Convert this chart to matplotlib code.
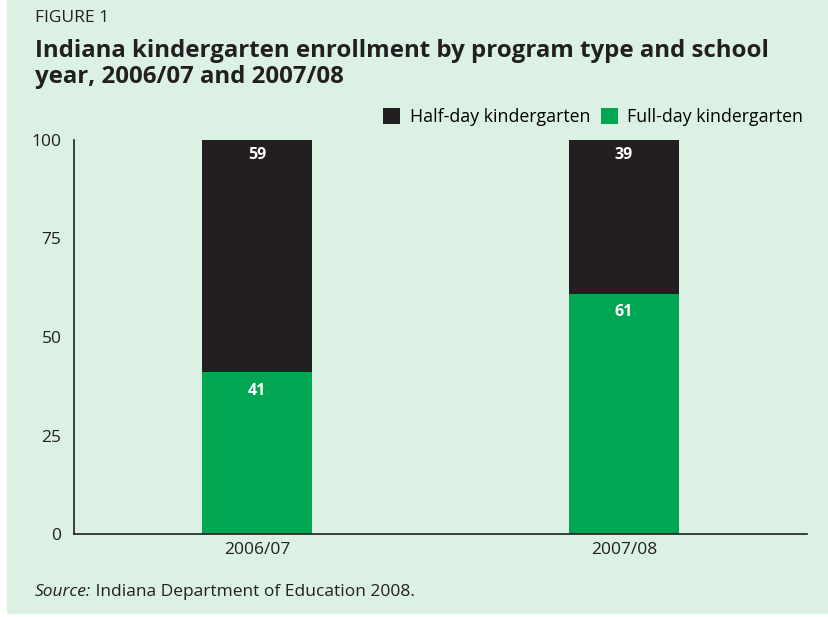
import matplotlib
matplotlib.use("Agg")
import matplotlib.pyplot as plt
from matplotlib.patches import Rectangle

# Data
years = ["2006/07", "2007/08"]
full_day = [41, 61]
half_day = [59, 39]
yticks = [0, 25, 50, 75, 100]

BG = "#daf1e4"
BLACK = "#231f20"
GREEN = "#00a651"

plt.rcParams["font.family"] = ["Open Sans", "DejaVu Sans"]

fig = plt.figure(figsize=(8.29, 6.17), dpi=100, facecolor="white")
fig.patches.append(Rectangle((7 / 829, 3 / 617), 1, 1, transform=fig.transFigure,
                             facecolor=BG, edgecolor="none", zorder=-10))

ax = fig.add_axes([74 / 829, 83 / 617, 733 / 829, 394 / 617])
ax.set_facecolor("none")

x = list(range(len(years)))
ax.bar(x, full_day, width=0.3, color=GREEN, label="Full-day kindergarten")
ax.bar(x, half_day, width=0.3, bottom=full_day, color=BLACK, label="Half-day kindergarten")

# Segment labels just inside the top of each segment
for i in x:
    ax.annotate(str(full_day[i]), (i, full_day[i]), xytext=(0, -13), textcoords="offset points",
                ha="center", va="center", color="white", fontsize=11.5, fontweight="bold")
    ax.annotate(str(half_day[i]), (i, full_day[i] + half_day[i]), xytext=(0, -11),
                textcoords="offset points", ha="center", va="center", color="white",
                fontsize=11.5, fontweight="bold")

ax.set_xlim(-0.5, 1.5)
ax.set_ylim(0, 100)
ax.set_yticks(yticks)
ax.set_xticks(x)
ax.set_xticklabels(years)
ax.tick_params(length=0, labelsize=12.5, colors="#231f20", pad=9)
ax.tick_params(axis="x", pad=6)
for s in ["top", "right"]:
    ax.spines[s].set_visible(False)
for s in ["left", "bottom"]:
    ax.spines[s].set_color("#231f20")
    ax.spines[s].set_linewidth(1.2)

handles, labels = ax.get_legend_handles_labels()
ax.legend(handles[::-1], labels[::-1], loc="lower right", bbox_to_anchor=(0.995, 1.035),
          ncol=2, frameon=False, fontsize=12.8, handlelength=0.95, handleheight=0.95,
          handletextpad=0.55, columnspacing=0.6, borderaxespad=0, borderpad=0)

fig.text(35 / 829, 1 - 18 / 617, "FIGURE 1", fontsize=12.5, color="#231f20", va="center")
fig.text(35 / 829, 1 - 64 / 617,
         "Indiana kindergarten enrollment by program type and school\nyear, 2006/07 and 2007/08",
         fontsize=17.3, fontweight="bold", color="#231f20", va="center", linespacing=1.15)
src = fig.text(35 / 829, 1 - 596 / 617, "Source:", fontsize=12.5, style="italic",
               color="#231f20", va="baseline")
rest = fig.text(35 / 829, 1 - 596 / 617, " Indiana Department of Education 2008.",
                fontsize=12.5, color="#231f20", va="baseline")
fig.canvas.draw()
bb = src.get_window_extent()
rest.set_x(bb.x1 / fig.bbox.width)

fig.savefig("out.png", dpi=100, facecolor=fig.get_facecolor())
